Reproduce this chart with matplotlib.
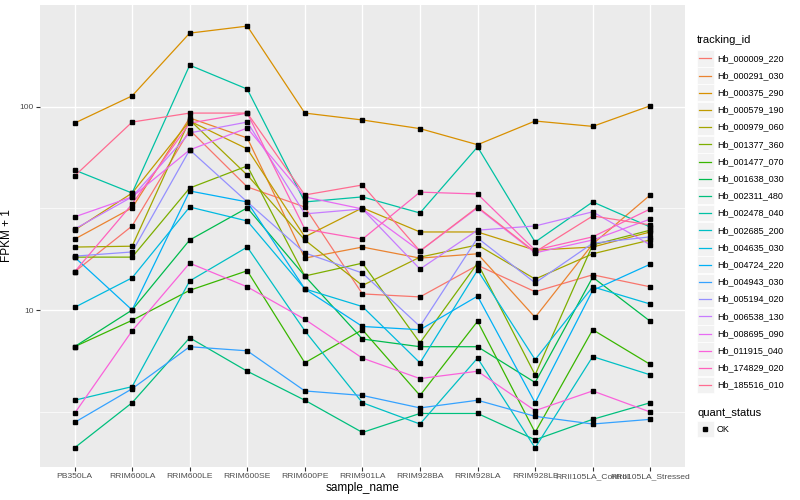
import numpy as np
import matplotlib.pyplot as plt
from matplotlib.patches import Rectangle
from matplotlib.lines import Line2D
from matplotlib.ticker import FixedLocator, NullFormatter

plt.rcParams['font.family'] = ['Liberation Sans', 'DejaVu Sans']

# Образцы (ось X)
samples = ['PB350LA', 'RRIM600LA', 'RRIM600LE', 'RRIM600SE', 'RRIM600PE',
           'RRIM901LA', 'RRIM928BA', 'RRIM928LA', 'RRIM928LE',
           'RRII105LA_Control', 'RRII105LA_Stressed']

# FPKM + 1 по каждому гену
hb_000009_220 = [15.4, 25.9, 76.8, 40.3, 32.1, 12.0, 11.6, 16.6, 12.3, 14.9, 13.0]
hb_000291_030 = [22.3, 31.8, 88.0, 70.2, 18.0, 20.4, 18.0, 18.9, 9.2, 21.1, 36.8]
hb_000375_290 = [83, 113, 230, 249, 93, 86, 78, 65, 85, 80, 101]
hb_000579_190 = [24.7, 37.6, 85, 62, 22.9, 31.8, 24.2, 24.2, 19.7, 20.4, 24.2]
hb_000979_060 = [20.4, 20.6, 86, 46.1, 22.1, 13.2, 18.2, 20.9, 14.2, 18.9, 22.1]
hb_001377_360 = [18.2, 18.2, 39.8, 51.1, 14.7, 17.0, 6.9, 17.0, 4.8, 20.9, 24.7]
hb_001477_070 = [6.6, 8.9, 12.5, 15.6, 5.5, 8.0, 3.8, 8.8, 2.5, 8.0, 5.4]
hb_001638_030 = [6.6, 10.0, 22.1, 31.8, 14.7, 7.2, 6.6, 6.6, 4.4, 14.5, 8.8]
hb_002311_480 = [2.1, 3.5, 7.3, 5.0, 3.6, 2.5, 3.1, 3.1, 2.3, 2.9, 3.5]
hb_002478_040 = [48.8, 37.6, 160, 122, 34, 36, 30, 63.4, 21.6, 34, 25.6]
hb_002685_200 = [3.6, 4.2, 13.9, 20.4, 7.9, 3.5, 2.75, 5.8, 2.1, 5.9, 4.8]
hb_004635_030 = [10.3, 14.4, 32.1, 27.4, 12.7, 10.4, 5.5, 15.7, 5.7, 13.0, 10.7]
hb_004724_220 = [18.2, 10.0, 38.5, 34.0, 12.7, 8.3, 8.0, 11.7, 3.5, 12.5, 16.8]
hb_004943_030 = [2.8, 4.1, 6.6, 6.3, 4.0, 3.8, 3.3, 3.6, 3.0, 2.75, 2.9]
hb_005194_020 = [18.4, 19.3, 61.3, 34.0, 19.1, 15.2, 8.3, 22.6, 13.6, 21.3, 22.9]
hb_006538_130 = [25.0, 36.0, 74.3, 84.0, 29.7, 31.4, 15.9, 24.7, 25.9, 30.4, 20.9]
hb_008695_090 = [28.7, 36.0, 61.3, 78.5, 36.0, 31.4, 19.5, 31.8, 19.1, 22.1, 28.0]
hb_011915_040 = [3.1, 7.9, 17.0, 13.0, 9.0, 5.8, 4.6, 5.0, 3.2, 4.0, 3.15]
hb_174829_020 = [15.4, 33.2, 83, 93, 25.0, 22.3, 38.0, 37.2, 19.7, 22.9, 31.4]
hb_185516_010 = [45.6, 84, 93, 93, 36.8, 41.2, 19.5, 32.1, 19.3, 29.0, 26.2]

tracking_ids = ['Hb_000009_220', 'Hb_000291_030', 'Hb_000375_290', 'Hb_000579_190',
                'Hb_000979_060', 'Hb_001377_360', 'Hb_001477_070', 'Hb_001638_030',
                'Hb_002311_480', 'Hb_002478_040', 'Hb_002685_200', 'Hb_004635_030',
                'Hb_004724_220', 'Hb_004943_030', 'Hb_005194_020', 'Hb_006538_130',
                'Hb_008695_090', 'Hb_011915_040', 'Hb_174829_020', 'Hb_185516_010']

series = [hb_000009_220, hb_000291_030, hb_000375_290, hb_000579_190, hb_000979_060,
          hb_001377_360, hb_001477_070, hb_001638_030, hb_002311_480, hb_002478_040,
          hb_002685_200, hb_004635_030, hb_004724_220, hb_004943_030, hb_005194_020,
          hb_006538_130, hb_008695_090, hb_011915_040, hb_174829_020, hb_185516_010]

# палитра ggplot (hue_pal, 20 цветов)
colors = ['#F8766D', '#EA8331', '#D89000', '#C09B00', '#A3A500', '#7CAE00', '#39B600',
          '#00BB4E', '#00BF7D', '#00C1A3', '#00BFC4', '#00BAE0', '#00B0F6', '#35A2FF',
          '#9590FF', '#C77CFF', '#E76BF3', '#FA62DB', '#FF62BC', '#FF6C91']

fig = plt.figure(figsize=(8, 5), dpi=100)
ax = fig.add_axes([0.05, 0.066, 0.806, 0.924])
ax.set_facecolor('#EBEBEB')

x = np.arange(len(samples))
for vals, c in zip(series, colors):
    ax.plot(x, vals, color=c, lw=0.9, zorder=3)
for vals in series:
    ax.plot(x, vals, 's', color='black', ms=2.3, zorder=4, lw=0)

ax.set_yscale('log')
ax.set_ylim(10 ** 0.228, 10 ** 2.5)
ax.set_xlim(-0.6, len(samples) - 0.4)
ax.yaxis.set_major_locator(FixedLocator([10, 100]))
ax.yaxis.set_minor_locator(FixedLocator([10 ** 0.5, 10 ** 1.5]))
ax.yaxis.set_minor_formatter(NullFormatter())
ax.set_yticklabels(['10', '100'])
ax.set_xticks(x)
ax.set_xticklabels(samples)

ax.grid(True, which='major', color='white', lw=1.0, zorder=0)
ax.grid(True, which='minor', axis='y', color='white', lw=0.5, zorder=0)
ax.set_axisbelow(True)
for s in ax.spines.values():
    s.set_visible(False)
ax.tick_params(which='major', length=3, color='#333333', labelsize=6.1,
               labelcolor='#4D4D4D', pad=1.5)
ax.tick_params(which='minor', length=0)

ax.set_xlabel('sample_name', fontsize=8.5, labelpad=1)
ax.set_ylabel('FPKM + 1', fontsize=8.5, labelpad=5)

# легенда tracking_id
fig.text(697 / 800, 1 - 40 / 500, 'tracking_id', fontsize=8, va='center', ha='left')
for i, (name, c) in enumerate(zip(tracking_ids, colors)):
    yc = 58.3 + i * 17.2
    fig.add_artist(Rectangle((697 / 800, 1 - (yc + 8.3) / 500), 16.6 / 800, 16.6 / 500,
                             transform=fig.transFigure, facecolor='#F2F2F2',
                             edgecolor='white', lw=0.5))
    fig.add_artist(Line2D([699 / 800, 711 / 800], [1 - yc / 500, 1 - yc / 500],
                          transform=fig.transFigure, color=c, lw=0.9))
    fig.text(717 / 800, 1 - yc / 500, name, fontsize=6.5, va='center', ha='left')

# легенда quant_status
fig.text(697 / 800, 1 - 413 / 500, 'quant_status', fontsize=8, va='center', ha='left')
fig.add_artist(Rectangle((697 / 800, 1 - (429 + 8.3) / 500), 16.6 / 800, 16.6 / 500,
                         transform=fig.transFigure, facecolor='#F2F2F2',
                         edgecolor='white', lw=0.5))
fig.add_artist(Line2D([705 / 800], [1 - 429 / 500], transform=fig.transFigure,
                      marker='s', color='black', ms=2.3, lw=0))
fig.text(717 / 800, 1 - 429 / 500, 'OK', fontsize=6.5, va='center', ha='left')

fig.savefig('out.png', dpi=100)
